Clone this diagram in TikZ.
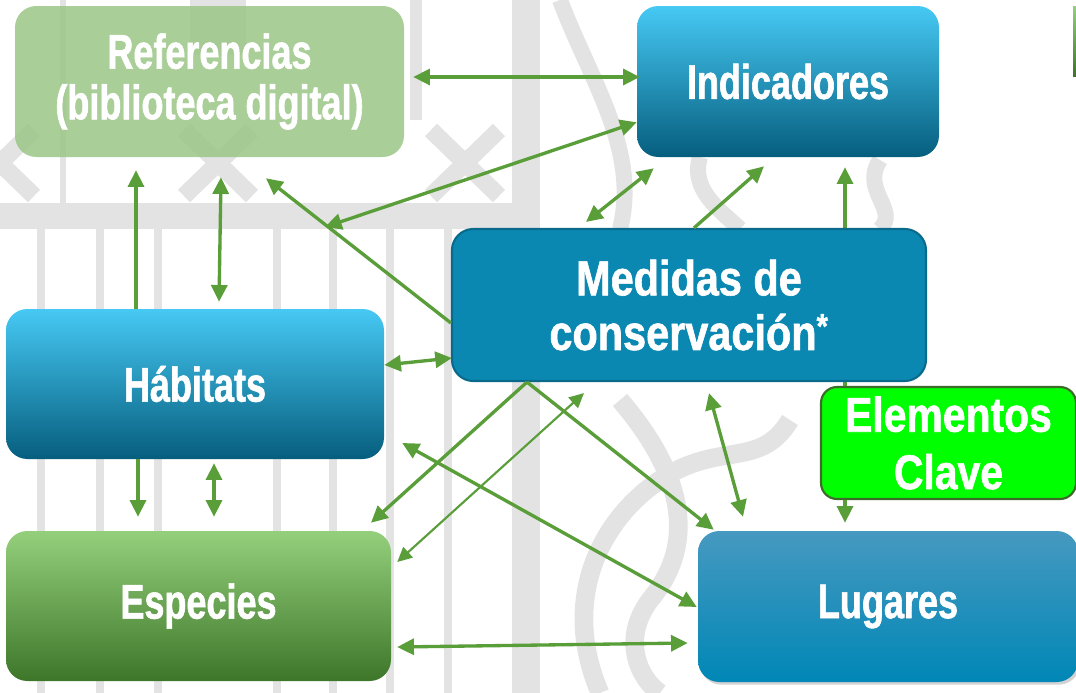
\documentclass[tikz,border=0pt]{standalone}
\usepackage{fontspec}
\newfontfamily\boxfont{Liberation Sans}[FakeStretch=0.74,FakeBold=1.2]
\newfontfamily\boxfontw{Liberation Sans}[FakeStretch=0.84,FakeBold=1.2]
\usetikzlibrary{arrows.meta,shadows}
\pgfdeclarelayer{wm}
\pgfdeclarelayer{back}
\pgfsetlayers{wm,back,main}
\definecolor{arr}{HTML}{5A9E3A}
\definecolor{wmg}{HTML}{E3E3E3}
\definecolor{refg}{HTML}{9BC687}
\definecolor{blueT}{HTML}{46C9F4}
\definecolor{blueM}{HTML}{0A90BC}
\definecolor{blueB}{HTML}{065E7E}
\definecolor{medf}{HTML}{0B88B2}
\definecolor{medd}{HTML}{0A6A8C}
\definecolor{greT}{HTML}{94D07C}
\definecolor{greM}{HTML}{5AA23C}
\definecolor{greB}{HTML}{3D7629}
\definecolor{lugT}{HTML}{4699C0}
\definecolor{lugM}{HTML}{0B8DBA}
\definecolor{lugB}{HTML}{0087B6}
\definecolor{eled}{HTML}{3D6B2A}
\begin{document}
\begin{tikzpicture}[x=0.75pt,y=-0.75pt,
  box/.style={rounded corners=16pt, text=white, align=center, inner sep=0pt,
    font=\boxfont\bfseries\fontsize{36.5}{38}\selectfont},
  bluebox/.style={box, top color=blueT, middle color=blueM, bottom color=blueB},
  con/.style={draw=arr, line width=2.5pt, -{Triangle[length=12.5pt,width=12pt]}},
  bicon/.style={draw=arr, line width=2.5pt, {Triangle[length=12.5pt,width=12pt]}-{Triangle[length=12.5pt,width=12pt]}},
  thinbi/.style={draw=arr, line width=1.6pt, {Triangle[length=11pt,width=10.5pt]}-{Triangle[length=11pt,width=10.5pt]}}
]
\useasboundingbox (0,0) rectangle (1076,693);

% watermark
\begin{pgfonlayer}{wm}
\fill[white] (0,0) rectangle (1076,693);
\fill[wmg] (0,203) rectangle (520,229);
\foreach \xx in {41,100,158,277,333,390,448}
  \fill[wmg] (\xx-4,229) rectangle (\xx+4,693);
\fill[wmg] (512,0) rectangle (540,693);
\fill[wmg] (410,0) rectangle (422,120);
\fill[wmg] (60,0) rectangle (66,203);
\fill[wmg] (190,0) rectangle (246,55);
\foreach \cx in {218,465,0}{
  \draw[wmg, line width=13pt] (\cx-34,130) -- (\cx+34,196);
  \draw[wmg, line width=13pt] (\cx+34,130) -- (\cx-34,196);
}
\draw[wmg, line width=14pt] (600,693) .. controls (560,600) and (600,520) .. (660,480)
  .. controls (720,440) and (760,470) .. (790,420);
\draw[wmg, line width=14pt] (620,400) .. controls (680,470) and (700,540) .. (650,600)
  .. controls (620,640) and (640,680) .. (660,693);
\draw[wmg, line width=12pt] (560,0) .. controls (590,80) and (640,150) .. (620,229);
\draw[wmg, line width=12pt] (700,157) .. controls (690,190) and (720,210) .. (740,229);
\draw[wmg, line width=12pt] (880,160) .. controls (860,190) and (900,210) .. (880,229);
\end{pgfonlayer}

% boxes
\node[box, fill=refg, fill opacity=0.85, text opacity=1, minimum width=291.75pt, minimum height=113.25pt] (ref) at (209.5,81.5) {Referencias\\(biblioteca digital)};
\node[bluebox, minimum width=226.5pt, minimum height=113.25pt] (ind) at (788,81.5) {Indicadores};
\node[box, fill=medf, draw=medd, line width=1.6pt, minimum width=355.5pt, minimum height=114pt,
  font=\boxfontw\bfseries\fontsize{37}{41}\selectfont] (med) at (689,305) {Medidas de\\conservación\textsuperscript{*}};
\node[bluebox, minimum width=283.5pt, minimum height=112.5pt] (hab) at (195,384) {Hábitats};
\node[box, top color=greT, middle color=greM, bottom color=greB, minimum width=288.75pt, minimum height=112.5pt] (esp) at (198.5,606) {Especies};
\node[box, top color=lugT, middle color=lugM, bottom color=lugB, minimum width=285pt, minimum height=113.25pt,
  drop shadow={shadow xshift=1.5pt, shadow yshift=-2pt, opacity=0.35}] (lug) at (888,606.5) {Lugares};
\node[box, rounded corners=12pt, fill=green, draw=eled, line width=1.6pt, minimum width=191.25pt, minimum height=84pt,
  font=\boxfontw\bfseries\fontsize{36.5}{43}\selectfont] (ele) at (948.5,443) {Elementos\\Clave};
\fill[top color=greT, bottom color=greB] (1073,6) rectangle (1077,76);
\coordinate (p5) at (325,227);

% connectors
\begin{pgfonlayer}{back}
\draw[con] ([shift={(-103.5,0)}]ele.north) -- ([shift={(57,10)}]ind.south);
\end{pgfonlayer}
\draw[bicon] ([shift={(9,-4.5)}]ref.east) -- ([shift={(3,-4.5)}]ind.west);
\draw[con] ([shift={(-59,0)}]hab.north) -- ([shift={(-73.5,13)}]ref.south);
\draw[bicon] ([shift={(11.5,20)}]ref.south) -- ([shift={(24,-7)}]hab.north);
\draw[con] ([shift={(0,18)}]med.west) -- ([shift={(56.5,21)}]ref.south);
\draw[bicon] (p5) -- ([shift={(0,-35)}]ind.south west);
\draw[bicon] ([shift={(-103,-6)}]med.north) -- ([shift={(17,11)}]ind.south west);
\draw[con] ([shift={(5,0)}]med.north) -- ([shift={(-24,9)}]ind.south);
\draw[bicon] ([shift={(0,-19)}]hab.east) -- ([shift={(1,53)}]med.west);
\draw[con] ([shift={(-57,0)}]hab.south) -- ([shift={(-60.5,-14)}]esp.north);
\draw[bicon] ([shift={(19,4)}]hab.south) -- ([shift={(15.5,-14)}]esp.north);
\draw[con] ([shift={(-162,0)}]med.south) -- ([shift={(172.5,-8)}]esp.north);
\draw[thinbi] ([shift={(-105,11)}]med.south) -- ([shift={(6,-44)}]esp.east);
\draw[bicon] ([shift={(18,59)}]hab.east) -- ([shift={(-1,0.5)}]lug.west);
\draw[con] ([shift={(-162,0)}]med.south) -- ([shift={(16,-1)}]lug.north west);
\draw[bicon] ([shift={(6,41)}]esp.east) -- ([shift={(-10,36.5)}]lug.west);
\draw[bicon] ([shift={(20,11)}]med.south) -- ([shift={(-145,-14)}]lug.north);
\draw[con] ([shift={(-103.5,0)}]ele.south) -- ([shift={(-43,-8)}]lug.north);
\end{tikzpicture}
\end{document}
